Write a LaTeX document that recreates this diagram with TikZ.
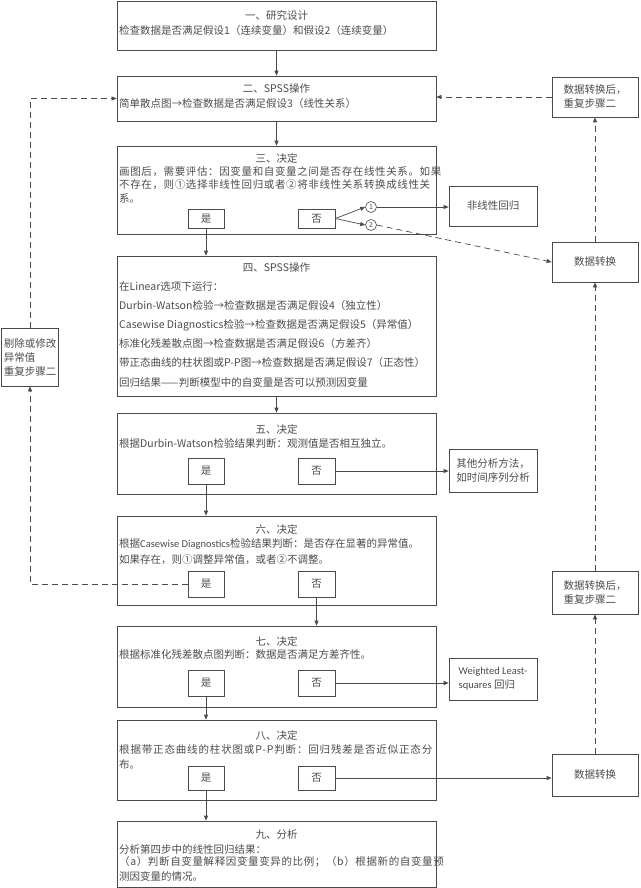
\documentclass[tikz,border=0pt]{standalone}
\usepackage{fontspec}
\setmainfont{Noto Sans CJK SC}
\newfontfamily\lat{Carlito}
\usetikzlibrary{arrows.meta,calc}
\definecolor{lc}{HTML}{4A4A4A}
\definecolor{tc}{HTML}{4C4C4C}
\newcommand\fs{\fontsize{10.5pt}{14pt}\selectfont}
\newcommand\spread[2]{{\addfontfeature{LetterSpace=#1}#2}}
\begin{document}
\begin{tikzpicture}[x=1pt,y=-1pt,
  every node/.style={font=\fs, text=tc},
  box/.style={draw=lc, line width=0.7pt, inner sep=0pt},
  yn/.style={box, minimum width=36pt},
  side/.style={box, minimum width=88pt, align=left, inner xsep=2pt},
  ttl/.style={inner sep=0pt, anchor=center},
  txt/.style={inner sep=0pt, anchor=west},
  circ/.style={draw=lc, line width=0.6pt, circle, inner sep=0pt, minimum size=11pt, font=\fontsize{7pt}{8pt}\selectfont},
  arr/.style={draw=lc, line width=0.7pt, -{Triangle[length=5pt,width=4pt]}},
  dsh/.style={arr, dash pattern=on 6pt off 4pt}]
\useasboundingbox (0,0) rectangle (640,888);
\fill[white] (0,0) rectangle (640,888);

% main boxes
\node[box, minimum width=319pt, minimum height=49pt] (b1) at (276.5,25.5) {};
\node[box, minimum width=319pt, minimum height=45pt] (b2) at (276.5,98.5) {};
\node[box, minimum width=319pt, minimum height=88pt] (b3) at (276.5,190) {};
\node[box, minimum width=319pt, minimum height=140pt] (b4) at (276.5,326) {};
\node[box, minimum width=319pt, minimum height=81pt] (b5) at (276.5,453.5) {};
\node[box, minimum width=319pt, minimum height=89pt] (b6) at (276.5,560.5) {};
\node[box, minimum width=319pt, minimum height=81pt] (b7) at (276.5,666.5) {};
\node[box, minimum width=319pt, minimum height=80pt] (b8) at (276.5,760) {};
\node[box, minimum width=319pt, minimum height=66pt] (b9) at (276.5,854) {};

% texts
\node[ttl] (t1) at (276.5,15) {一、研究设计};
\node[txt] (l1) at (119,31) {检查数据是否满足假设1（连续变量）和假设2（连续变量）};
\node[ttl] (t2) at (276.5,89) {二、SPSS操作};
\node[txt] (l2) at (119,104) {简单散点图→检查数据是否满足假设3（线性关系）};
\node[ttl] (t3) at (276.5,158) {三、决定};
\node[txt] (l3a) at (119,172) {\spread{6}{画图后，需要评估：因变量和自变量之间是否存在线性关系。如果}};
\node[txt] (l3b) at (119,185) {\spread{6}{不存在，则①选择非线性回归或者②将非线性关系转换成线性关}};
\node[txt] (l3c) at (119,198) {系。};
\node[ttl] (t4) at (276.5,268) {四、SPSS操作};
\node[txt] (l4a) at (119,287) {在Linear选项下运行：};
\node[txt] (l4b) at (119,306) {Durbin-Watson检验→检查数据是否满足假设4（独立性）};
\node[txt] (l4c) at (119,325) {Casewise Diagnostics检验→检查数据是否满足假设5（异常值）};
\node[txt] (l4d) at (119,344) {标准化残差散点图→检查数据是否满足假设6（方差齐）};
\node[txt] (l4e) at (119,363) {带正态曲线的柱状图或P-P图→检查数据是否满足假设7（正态性）};
\node[txt] (l4f) at (119,382) {回归结果——判断模型中的自变量是否可以预测因变量};
\node[ttl] (t5) at (276.5,429) {五、决定};
\node[txt] (l5) at (119,444) {根据Durbin-Watson检验结果判断：观测值是否相互独立。};
\node[ttl] (t6) at (276.5,529) {六、决定};
\node[txt] (l6a) at (119,544) {根据{\lat Casewise Diagnostics}检验结果判断：是否存在显著的异常值。};
\node[txt] (l6b) at (119,560) {如果存在，则①调整异常值，或者②不调整。};
\node[ttl] (t7) at (276.5,641) {七、决定};
\node[txt] (l7) at (119,655) {根据标准化残差散点图判断：数据是否满足方差齐性。};
\node[ttl] (t8) at (276.5,735) {八、决定};
\node[txt] (l8a) at (119,750) {\spread{8}{根据带正态曲线的柱状图或P-P判断：回归残差是否近似正态分}};
\node[txt] (l8b) at (119,764) {布。};
\node[ttl] (t9) at (276.5,835) {九、分析};
\node[txt] (l9a) at (119,849) {分析第四步中的线性回归结果：};
\node[txt] (l9b) at (119,862) {\spread{6}{（a）判断自变量解释因变量变异的比例；（b）根据新的自变量预}};
\node[txt] (l9c) at (119,876) {测因变量的情况。};

% yes / no boxes
\node[yn, minimum height=19pt] (y3) at (206,218.5) {是};
\node[yn, minimum height=19pt, minimum width=37pt] (n3) at (316.5,218.5) {否};
\node[yn, minimum height=26pt] (y5) at (206,471) {是};
\node[yn, minimum height=26pt, minimum width=37pt] (n5) at (316.5,471) {否};
\node[yn, minimum height=26pt] (y6) at (206,584) {是};
\node[yn, minimum height=26pt, minimum width=37pt] (n6) at (316.5,584) {否};
\node[yn, minimum height=26pt] (y7) at (206,683) {是};
\node[yn, minimum height=26pt, minimum width=37pt] (n7) at (316.5,683) {否};
\node[yn, minimum height=24pt] (y8) at (206,778) {是};
\node[yn, minimum height=24pt, minimum width=37pt] (n8) at (316.5,778) {否};

% circles
\node[circ] (c1) at (371,207) {1};
\node[circ] (c2) at (371,225) {2};

% side boxes
\node[side, minimum height=40pt, align=center] (nl) at (493,206) {非线性回归};
\node[side, minimum height=43pt] (oth) at (493,470.5) {其他分析方法，\\如时间序列分析};
\node[side, minimum height=42pt] (wls) at (493,679) {{\lat Weighted Least-}\\{\lat squares} 回归};
\node[side, minimum width=86pt, minimum height=40pt] (dzh1) at (595,97) {数据转换后，\\重复步骤二};
\node[side, minimum width=86pt, minimum height=40pt, align=center] (dz1) at (595,262) {数据转换};
\node[side, minimum width=86pt, minimum height=43pt] (dzh2) at (595,592.5) {数据转换后，\\重复步骤二};
\node[side, minimum width=86pt, minimum height=42pt, align=center] (dz2) at (595,775) {数据转换};
\node[box, minimum width=56pt, minimum height=58pt, align=left, inner xsep=2pt] (lb) at (30,357) {剔除或修改\\异常值\\重复步骤二};

% main flow
\draw[arr] (b1.south) -- (b2.north);
\draw[arr] (b2.south) -- (b3.north);
\draw[arr] (y3.south) -- (y3.south |- b4.north);
\draw[arr] (b4.south) -- (b5.north);
\draw[arr] (y5.south) -- (y5.south |- b6.north);
\draw[arr] (n6.south) -- (n6.south |- b7.north);
\draw[arr] (y7.south) -- (y7.south |- b8.north);
\draw[arr] (y8.south) -- (y8.south |- b9.north);

% branches
\draw[arr] (n3.east) -- (c1.west);
\draw[arr] (n3.east) -- (c2.west);
\draw[arr] (c1.east) -- (c1.east -| nl.west);
\draw[dsh] (c2.east) -- (dz1.west);
\draw[arr] (n5.east) -- (n5.east -| oth.west);
\draw[arr] (n7.east) -- (n7.east -| wls.west);
\draw[arr] (n8.east) -- (n8.east -| dz2.west);

% loops
\draw[dsh] (y6.west) -| (lb.south);
\draw[dsh] (lb.north) |- (b2.west);
\draw[dsh] (dzh1.west) -- (dzh1.west -| b2.east);
\draw[dsh] (dz1.north) -- (dzh1.south);
\draw[dsh] (dzh2.north) -- (dz1.south);
\draw[dsh] (dz2.north) -- (dzh2.south);
\end{tikzpicture}
\end{document}
